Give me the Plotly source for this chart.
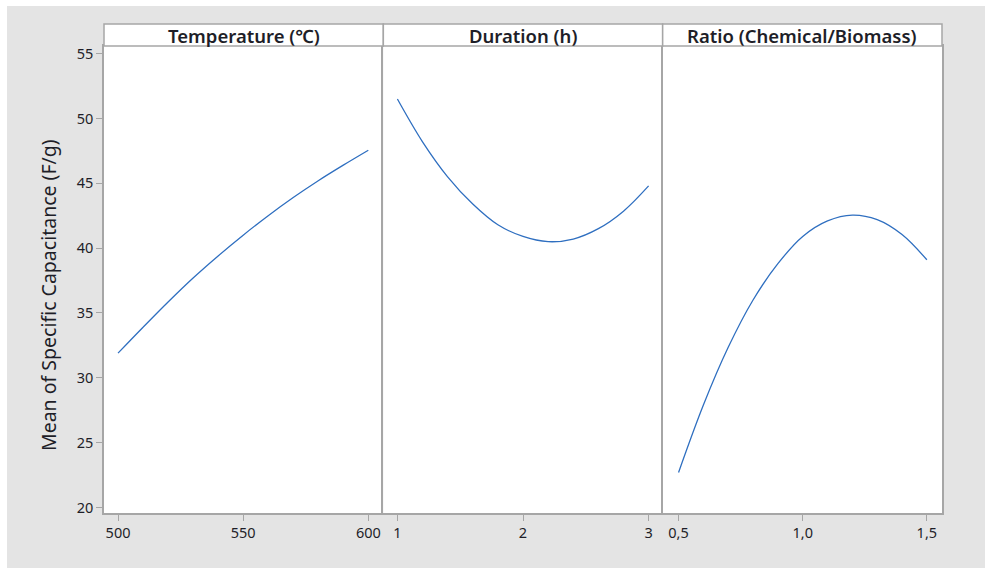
import plotly.graph_objects as go

# ---- data ----
temp_x = [500, 510, 520, 530, 540, 550, 560, 570, 580, 590, 600]
temp_y = [31.9, 33.9, 35.85, 37.7, 39.4, 41.0, 42.5, 43.9, 45.2, 46.4, 47.55]

dur_x = [1.0, 1.2, 1.4, 1.6, 1.8, 2.0, 2.2, 2.4, 2.6, 2.8, 3.0]
dur_y = [51.5, 48.2, 45.5, 43.4, 41.8, 40.9, 40.5, 40.7, 41.5, 42.85, 44.8]

ratio_x = [0.5, 0.6, 0.7, 0.8, 0.9, 1.0, 1.1, 1.2, 1.3, 1.4, 1.5]
ratio_y = [22.7, 27.9, 32.35, 36.0, 38.8, 40.9, 42.1, 42.55, 42.2, 41.05, 39.1]

panel_titles = ["Temperature (\u2103)", "Duration (h)", "Ratio (Chemical/Biomass)"]
temp_ticks = [500, 550, 600]
temp_ticktext = ["500", "550", "600"]
dur_ticks = [1, 2, 3]
dur_ticktext = ["1", "2", "3"]
ratio_ticks = [0.5, 1.0, 1.5]
ratio_ticktext = ["0,5", "1,0", "1,5"]
y_ticks = [20, 25, 30, 35, 40, 45, 50, 55]
y_title = "Mean of Specific Capacitance (F/g)"

# ---- figure ----
W, H = 985, 568
L, R, T, B = 104, 43, 46, 55
pw = W - L - R
ph = H - T - B

def px_x(p):
    return (p - L) / pw

def px_y(p):
    return (H - B - p) / ph

line_col = "#2f6fc0"
axis_col = "#a6a6a6"
font_fam = "Noto Sans"
txt_col = "#1e1e28"

fig = go.Figure()
xs = [temp_x, dur_x, ratio_x]
ys = [temp_y, dur_y, ratio_y]
for i in range(3):
    fig.add_trace(go.Scatter(
        x=xs[i], y=ys[i], mode="lines",
        line=dict(color=line_col, width=1.3, shape="spline", smoothing=1.0),
        xaxis="x" if i == 0 else f"x{i+1}", yaxis="y" if i == 0 else f"y{i+1}",
        showlegend=False, hoverinfo="x+y"))

third = 1.0 / 3
xranges = [[494.4, 606.0], [0.888, 3.112], [0.436, 1.561]]
xtv = [temp_ticks, dur_ticks, ratio_ticks]
xtt = [temp_ticktext, dur_ticktext, ratio_ticktext]
yr = [19.57, 55.59]

common_axis = dict(showline=True, linecolor=axis_col, linewidth=1.5,
                   showgrid=False, zeroline=False, ticks="outside", ticklen=6,
                   tickcolor=axis_col, tickwidth=1,
                   tickfont=dict(family=font_fam, size=14.5, color=txt_col))

layout = dict(
    width=W, height=H,
    margin=dict(l=L, r=R, t=T, b=B, pad=0),
    paper_bgcolor="#e4e4e4", plot_bgcolor="white",
    showlegend=False,
)
for i in range(3):
    xk = "xaxis" if i == 0 else f"xaxis{i+1}"
    yk = "yaxis" if i == 0 else f"yaxis{i+1}"
    layout[xk] = dict(common_axis, domain=[i * third, (i + 1) * third],
                      range=xranges[i], tickvals=xtv[i], ticktext=xtt[i],
                      mirror=True,
                      anchor="y" if i == 0 else f"y{i+1}")
    ydict = dict(common_axis, range=yr, anchor="x" if i == 0 else f"x{i+1}",
                 tickvals=y_ticks, mirror=(i == 2))
    if i > 0:
        ydict.update(ticks="", showticklabels=False)
    layout[yk] = ydict

fig.update_layout(**layout)

shapes = []
annotations = []
# white outer strips (top and left)
shapes.append(dict(type="rect", xref="paper", yref="paper",
                   x0=px_x(-5), x1=px_x(W + 5), y0=px_y(6), y1=px_y(-5),
                   fillcolor="white", line=dict(width=0), layer="below"))
shapes.append(dict(type="rect", xref="paper", yref="paper",
                   x0=px_x(-5), x1=px_x(7), y0=px_y(H + 5), y1=px_y(-5),
                   fillcolor="white", line=dict(width=0), layer="below"))
# strip headers
for i in range(3):
    x0 = i * third
    x1 = (i + 1) * third
    shapes.append(dict(type="rect", xref="paper", yref="paper",
                       x0=x0, x1=x1, y0=1.0, y1=px_y(24),
                       fillcolor="white", line=dict(color=axis_col, width=1.5)))
    annotations.append(dict(xref="paper", yref="paper", x=(x0 + x1) / 2, y=px_y(35),
                            text=panel_titles[i], showarrow=False,
                            xanchor="center", yanchor="middle",
                            font=dict(family=font_fam, size=18.5, color=txt_col, weight=600)))

# y-axis title
annotations.append(dict(xref="paper", yref="paper", x=px_x(48), y=px_y(295),
                        text=y_title, showarrow=False, textangle=-90,
                        xanchor="center", yanchor="middle",
                        font=dict(family=font_fam, size=19.5, color=txt_col)))

fig.update_layout(shapes=shapes, annotations=annotations)
fig.write_html("out.html")
